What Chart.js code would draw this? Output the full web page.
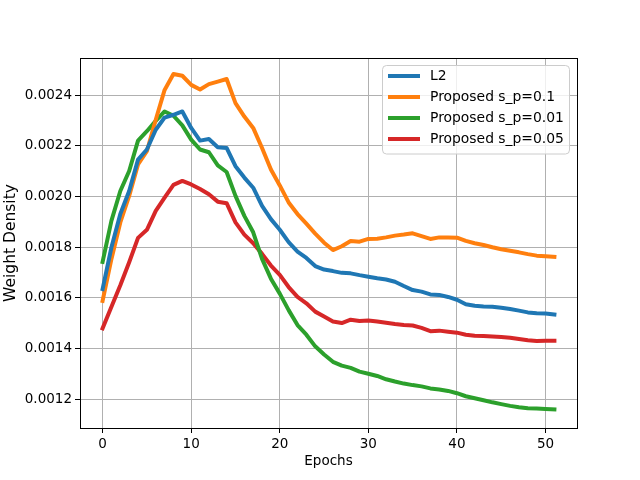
<!DOCTYPE html>
<html>
<head>
<meta charset="utf-8">
<script src="https://cdn.jsdelivr.net/npm/chart.js@4"></script>
<style>
  html, body { margin: 0; padding: 0; background: #fff; }
  canvas { display: block; }
</style>
</head>
<body>
<canvas id="chart" width="640" height="480"></canvas>
<script>
const epochs = [0,1,2,3,4,5,6,7,8,9,10,11,12,13,14,15,16,17,18,19,20,21,22,23,24,25,
  26,27,28,29,30,31,32,33,34,35,36,37,38,39,40,41,42,43,44,45,46,47,48,49,50,51];

const l2 = [0.001635,0.00180,0.001931,0.002022,0.002146,0.002186,0.002264,0.002312,0.002323,0.002336,
  0.002271,0.002221,0.002227,0.002195,0.002192,0.00212,0.002075,0.002035,0.001963,0.001911,
  0.001869,0.00182,0.001783,0.001758,0.001726,0.001712,0.001706,0.001699,0.001697,0.00169,
  0.001684,0.001678,0.001673,0.001664,0.001647,0.001631,0.001625,0.001614,0.001612,0.001604,
  0.001593,0.001575,0.001569,0.001566,0.001565,0.001561,0.001556,0.00155,0.001543,0.00154,
  0.001539,0.001535];

const sp01 = [0.001588,0.001754,0.001898,0.002003,0.002127,0.002179,0.002303,0.002421,0.002484,0.002477,
  0.002441,0.002423,0.002444,0.002454,0.002464,0.002369,0.002316,0.002271,0.002192,0.002107,
  0.002044,0.001977,0.001931,0.001893,0.001854,0.001818,0.001789,0.001804,0.001825,0.001822,
  0.001833,0.001834,0.001839,0.001846,0.00185,0.001855,0.001844,0.001833,0.001839,0.001839,
  0.001838,0.001825,0.001816,0.001809,0.0018,0.001792,0.001786,0.00178,0.001773,0.001767,
  0.001765,0.001762];

const sp001 = [0.001742,0.001905,0.002022,0.002101,0.002221,0.002258,0.002299,0.002336,0.002319,0.002281,
  0.002225,0.002186,0.002175,0.002123,0.002097,0.002003,0.001924,0.001859,0.001754,0.001676,
  0.001617,0.001552,0.001493,0.001455,0.001409,0.001377,0.001348,0.001333,0.001324,0.001309,
  0.001301,0.001292,0.001279,0.00127,0.001262,0.001256,0.001251,0.001243,0.001239,0.001233,
  0.001224,0.001212,0.001204,0.001196,0.001188,0.001181,0.001174,0.001169,0.001165,0.001164,
  0.001162,0.00116];

const sp005 = [0.00148,0.001565,0.00165,0.001741,0.001837,0.001869,0.001944,0.001996,0.002046,0.002062,
  0.002048,0.00203,0.002009,0.00198,0.001974,0.001898,0.00185,0.001816,0.001774,0.001728,
  0.001691,0.001643,0.001604,0.001579,0.001546,0.001527,0.001507,0.001501,0.001514,0.001509,
  0.001511,0.001507,0.001502,0.001497,0.001493,0.001491,0.001482,0.001469,0.001471,0.001467,
  0.001463,0.001455,0.001451,0.00145,0.001448,0.001446,0.001443,0.001438,0.001433,0.00143,
  0.001431,0.001431];

const seriesNames = ['L2', 'Proposed s_p=0.1', 'Proposed s_p=0.01', 'Proposed s_p=0.05'];
const xTicks = [0, 10, 20, 30, 40, 50];
const yTicks = [0.0012, 0.0014, 0.0016, 0.0018, 0.0020, 0.0022, 0.0024];

const colors = ['#1f77b4', '#ff7f0e', '#2ca02c', '#d62728'];
const FONT = 'DejaVu Sans';

function pts(vals) {
  return epochs.map((e, i) => ({x: e, y: vals[i]}));
}

function line(label, vals, color) {
  return {
    label: label,
    data: pts(vals),
    borderColor: color,
    backgroundColor: color,
    borderWidth: 4,
    borderJoinStyle: 'round',
    borderCapStyle: 'square',
    pointRadius: 0,
    tension: 0,
    fill: false
  };
}

// frame round the axes plus a matplotlib style legend
const framePlugin = {
  id: 'frame',
  afterDatasetsDraw(chart) {
    const a = chart.chartArea;
    const ctx = chart.ctx;
    ctx.save();
    ctx.strokeStyle = '#000';
    ctx.lineWidth = 1;
    ctx.strokeRect(Math.round(a.left) + 0.5, Math.round(a.top) + 0.5,
      Math.round(a.right - a.left), Math.round(a.bottom - a.top));
    ctx.restore();
  },
  afterDraw(chart) {
    const ctx = chart.ctx;
    const bx = 382.5, by = 65.5, bw = 187, bh = 88.5, r = 4;
    ctx.save();
    ctx.beginPath();
    ctx.moveTo(bx + r, by);
    ctx.arcTo(bx + bw, by, bx + bw, by + bh, r);
    ctx.arcTo(bx + bw, by + bh, bx, by + bh, r);
    ctx.arcTo(bx, by + bh, bx, by, r);
    ctx.arcTo(bx, by, bx + bw, by, r);
    ctx.closePath();
    ctx.fillStyle = 'rgba(255,255,255,0.8)';
    ctx.fill();
    ctx.strokeStyle = '#cccccc';
    ctx.lineWidth = 1;
    ctx.stroke();

    ctx.font = '13.9px "' + FONT + '"';
    ctx.textBaseline = 'middle';
    ctx.textAlign = 'left';
    chart.data.datasets.forEach((ds, i) => {
      const cy = 76 + i * 21;
      ctx.strokeStyle = ds.borderColor;
      ctx.lineWidth = 4;
      ctx.lineCap = 'butt';
      ctx.beginPath();
      ctx.moveTo(388, cy);
      ctx.lineTo(420, cy);
      ctx.stroke();
      ctx.fillStyle = '#000';
      ctx.fillText(ds.label, 430, cy + 0.5);
    });
    ctx.restore();
  }
};

new Chart(document.getElementById('chart'), {
  type: 'line',
  data: {
    datasets: [
      line(seriesNames[0], l2, colors[0]),
      line(seriesNames[1], sp01, colors[1]),
      line(seriesNames[2], sp001, colors[2]),
      line(seriesNames[3], sp005, colors[3])
    ]
  },
  options: {
    responsive: false,
    devicePixelRatio: 1,
    animation: false,
    layout: { padding: { top: 58, right: 63, left: 0, bottom: 0 } },
    plugins: {
      legend: { display: false },
      tooltip: { enabled: false }
    },
    scales: {
      x: {
        type: 'linear',
        min: -2.55,
        max: 53.55,
        afterBuildTicks(scale) { scale.ticks = xTicks.map(v => ({value: v})); },
        afterFit(scale) { scale.height = 52; },
        grid: { color: '#b0b0b0', lineWidth: 1, tickLength: 5, tickColor: '#000', drawTicks: true },
        border: { display: false },
        ticks: {
          padding: 3,
          color: '#000',
          font: { family: FONT, size: 13.5 },
          callback: v => String(v)
        },
        title: {
          display: true,
          text: 'Epochs',
          color: '#000',
          font: { family: FONT, size: 13.5 },
          padding: { top: 0, bottom: 10 }
        }
      },
      y: {
        type: 'linear',
        min: 0.0010867,
        max: 0.002547,
        afterBuildTicks(scale) { scale.ticks = yTicks.map(v => ({value: v})); },
        afterFit(scale) { scale.width = 80; },
        grid: { color: '#b0b0b0', lineWidth: 1, tickLength: 5, tickColor: '#000', drawTicks: true },
        border: { display: false },
        ticks: {
          padding: 3,
          color: '#000',
          font: { family: FONT, size: 13.5 },
          callback: v => Number(v).toFixed(4)
        },
        title: {
          display: true,
          text: 'Weight Density',
          color: '#000',
          font: { family: FONT, size: 15.5 },
          padding: { top: 2, bottom: 0 }
        }
      }
    }
  },
  plugins: [framePlugin]
});
</script>
</body>
</html>
